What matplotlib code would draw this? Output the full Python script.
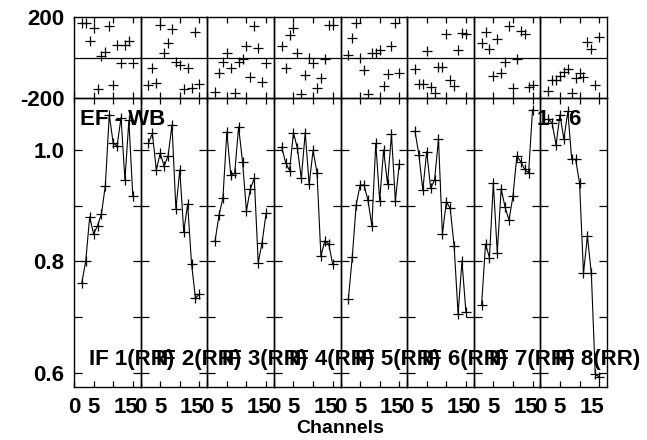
import matplotlib
matplotlib.use("Agg")
import matplotlib.pyplot as plt
import matplotlib.transforms as mtransforms

# -------------------
# Data
# -------------------

channels = [2, 3, 4, 5, 6, 7, 8, 9, 10, 11, 12, 13, 14, 15]

if_labels = ["IF 1(RR)", "IF 2(RR)", "IF 3(RR)", "IF 4(RR)",
             "IF 5(RR)", "IF 6(RR)", "IF 7(RR)", "IF 8(RR)"]

amp = [
    [0.762, 0.801, 0.880, 0.849, 0.864, 0.885, 0.936, 1.063, 1.012, 1.007, 1.058, 0.946, 1.053, 0.917],
    [1.012, 1.030, 0.964, 0.994, 0.971, 0.989, 1.045, 0.894, 0.964, 0.853, 0.903, 0.795, 0.734, 0.742],
    [0.837, 0.883, 0.914, 1.032, 0.955, 0.958, 1.041, 0.979, 0.891, 0.930, 0.949, 0.798, 0.834, 0.886],
    [1.005, 0.977, 0.963, 1.031, 1.003, 0.949, 1.031, 0.938, 0.999, 0.959, 0.810, 0.837, 0.831, 0.795],
    [0.732, 0.808, 0.901, 0.937, 0.937, 0.910, 0.864, 1.012, 0.909, 1.000, 0.939, 1.028, 0.909, 0.975],
    [1.034, 0.991, 0.928, 0.997, 0.931, 0.946, 1.019, 0.849, 0.907, 0.895, 0.827, 0.706, 0.801, 0.709],
    [0.722, 0.831, 0.807, 0.940, 0.816, 0.930, 0.897, 0.874, 0.917, 0.989, 0.979, 0.965, 0.959, 1.072],
    [1.055, 1.048, 1.009, 1.063, 1.019, 1.069, 0.983, 0.983, 0.940, 0.779, 0.845, 0.779, 0.598, 0.593],
]

phase = [
    [172, 172, 83, 144, -157, 7, 29, 156, -136, 62, -26, 62, 83, -26],
    [-136, -53, -127, 161, 21, 70, 139, -21, -37, -157, -53, -152, 127, -131],
    [-169, -78, -21, 21, -53, -174, -21, -9, 57, -98, 156, 48, -120, -29],
    [57, -53, 111, 144, 24, -180, -86, -4, -29, -152, -103, -9, 161, 161],
    [12, 95, 172, -4, -62, -180, 21, 24, 37, -141, -82, 57, 172, -78],
    [-58, -131, -131, 34, -147, -174, -45, -45, 115, -111, -141, 37, 120, 115],
    [70, 127, 41, -91, 90, -75, -21, 156, -152, -9, 132, 116, -147, -136],
    [-164, -111, -111, -91, -70, -58, -177, -103, -78, -98, 78, 41, -136, 103],
]

# -------------------
# Figure layout
# -------------------

plt.rcParams['font.family'] = ['Liberation Sans', 'DejaVu Sans']
plt.rcParams['font.weight'] = 'bold'
plt.rcParams['axes.unicode_minus'] = False

fig = plt.figure(figsize=(6.47, 4.4), dpi=100)

W, H = 647.0, 440.0
x0, x1 = 74.0, 607.0
top_ph, mid, bot = 17.0, 98.0, 387.0
pw = (x1 - x0) / 8

shift15 = mtransforms.ScaledTranslation(-5 / 72, 0, fig.dpi_scale_trans)

for p in range(8):
    left = (x0 + p * pw) / W

    # phase panel
    axp = fig.add_axes([left, (H - mid) / H, pw / W, (mid - top_ph) / H])
    axp.patch.set_visible(False)
    axp.plot(channels, phase[p], "+", color="black", markersize=7,
             markeredgewidth=0.9)
    axp.axhline(0, color="black", linewidth=0.9)
    axp.set_xlim(0, 17)
    axp.set_ylim(-200, 200)
    axp.set_xticks([0, 5, 10, 15])
    axp.set_xticklabels([])
    axp.set_yticks([-200, 200])
    axp.tick_params(axis="x", direction="in", top=True, bottom=True,
                    length=4, width=0.9)
    axp.tick_params(axis="y", direction="in", left=True, right=True,
                    length=0, pad=7, labelsize=16)
    if p > 0:
        axp.set_yticklabels([])

    # amplitude panel
    axa = fig.add_axes([left, (H - bot) / H, pw / W, (bot - mid) / H])
    axa.patch.set_visible(False)
    axa.plot(channels, amp[p], "-+", color="black", linewidth=0.8,
             markersize=7, markeredgewidth=0.9)
    axa.set_xlim(0, 17)
    axa.set_ylim(0.575, 1.093)
    axa.set_xticks([0, 5, 10, 15])
    axa.set_xticklabels(["0", "5", "", "15"])
    axa.set_yticks([0.6, 0.7, 0.8, 0.9, 1.0])
    axa.set_yticklabels(["0.6", "", "0.8", "", "1.0"])
    axa.tick_params(axis="x", direction="in", top=True, bottom=True,
                    length=4, width=0.9, pad=7, labelsize=16)
    axa.tick_params(axis="y", direction="in", left=True, right=True,
                    length=6, width=0.9, pad=7, labelsize=16)
    if p > 0:
        axa.set_yticklabels([])
    lab15 = axa.get_xticklabels()[3]
    lab15.set_transform(lab15.get_transform() + shift15)

    axa.text(0.225, 0.076, if_labels[p], transform=axa.transAxes,
             fontsize=16, fontweight="bold", va="baseline", ha="left",
             clip_on=False, zorder=10)

    for a in (axp, axa):
        for s in a.spines.values():
            s.set_linewidth(1.0)

# -------------------
# Annotations
# -------------------

fig.text(80 / W, 1 - 109 / H, "EF - WB", fontsize=16, fontweight="bold",
         va="top", ha="left")
fig.text(581 / W, 1 - 109 / H, "1 - 6", fontsize=16, fontweight="bold",
         va="top", ha="right")
fig.text((x0 + x1) / 2 / W, 1 - 428 / H, "Channels", fontsize=14,
         fontweight="bold", va="center", ha="center")

fig.savefig("out.png", dpi=100, facecolor="white")
